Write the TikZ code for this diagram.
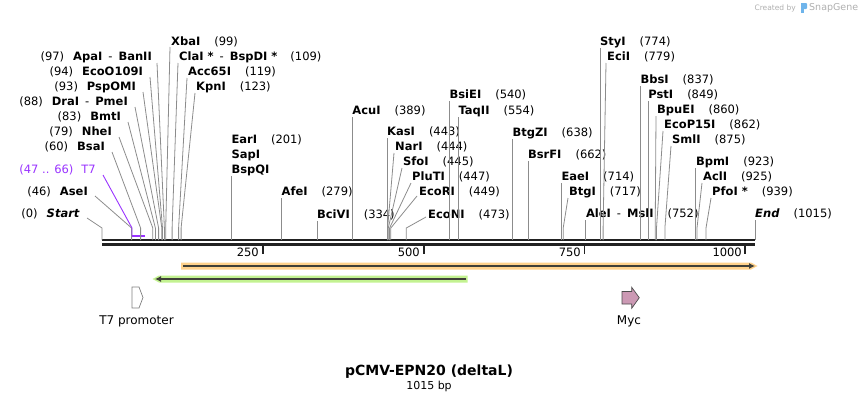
\documentclass[tikz,border=0pt]{standalone}
\usepackage{fontspec}
\setmainfont{DejaVu Sans}
\usepackage{xcolor}
\usetikzlibrary{arrows.meta}
\definecolor{cutgray}{RGB}{140,140,140}
\definecolor{seqdark}{RGB}{34,34,34}
\definecolor{t7purple}{RGB}{153,51,255}
\definecolor{cdsorange}{RGB}{255,210,140}
\definecolor{cdsgreen}{RGB}{195,242,145}
\definecolor{bardark}{RGB}{64,64,56}
\definecolor{mycpink}{RGB}{204,153,180}
\definecolor{markgray}{RGB}{175,175,175}
\definecolor{logoblue}{RGB}{110,180,235}

\begin{document}
\begin{tikzpicture}[x=1pt,y=-1pt,
    enz/.style={font=\fontsize{11.5}{13}\selectfont,inner sep=0pt},
    cut/.style={cutgray,line width=0.8pt},
    featlabel/.style={font=\fontsize{12}{14}\selectfont,inner sep=0pt}]
    \useasboundingbox (0,0) rectangle (858,402);

    % Watermark
    \node[font=\fontsize{7.5}{9}\selectfont,markgray,anchor=east,inner sep=0pt] (made) at (796,8) {Created by};
    \fill[logoblue] (801,3) rectangle (804,13);
    \fill[logoblue,rounded corners=1pt] (801,3) rectangle (807,9);
    \node[font=\fontsize{9.5}{11}\selectfont,markgray,anchor=west,inner sep=0pt] (snap) at (809,8) {SnapGene};

    % Sequence
    \coordinate (seqstart) at (102,240);
    \coordinate (seqend) at (755,240);
    \coordinate (seqtop) at (102,240);
    \draw[seqdark,line width=2.5pt] (seqstart) -- (seqend);
    \draw[seqdark,line width=2.5pt] ([yshift=-4.7pt]seqstart) -- ([yshift=-4.7pt]seqend);

    % Ticks
    \draw[seqdark,line width=1.8pt] (262.8,246) -- (262.8,254);
    \node[enz,anchor=east] (t250) at (259,252) {250};
    \draw[seqdark,line width=1.8pt] (423.7,246) -- (423.7,254);
    \node[enz,anchor=east] (t500) at (420,252) {500};
    \draw[seqdark,line width=1.8pt] (584.5,246) -- (584.5,254);
    \node[enz,anchor=east] (t750) at (581,252) {750};
    \draw[seqdark,line width=1.8pt] (745.3,246) -- (745.3,254);
    \node[enz,anchor=east] (t1000) at (742,252) {1000};

    % Sites, left side
    \node[enz,anchor=east] (start) at (80,214) {(0)\hspace{9pt}\textbf{\textit{Start}}};
    \coordinate (s-start) at (102,228);
    \draw[cut] ([shift={(7pt,-4pt)}]start.east) -- (s-start) -- (s-start |- seqtop);
    \node[enz,anchor=east] (asei) at (88,192) {(46)\hspace{9pt}\textbf{AseI}};
    \coordinate (s-asei) at (131.6,228);
    \draw[cut] ([shift={(7pt,-4pt)}]asei.east) -- (s-asei) -- (s-asei |- seqtop);
    \node[enz,anchor=east,t7purple] (t7) at (96,170) {(47 .. 66)\hspace{8pt}T7};
    \coordinate (s-t7) at (132,228);
    \draw[t7purple,line width=0.9pt] ([shift={(7pt,-5pt)}]t7.east) -- (s-t7) -- (132,235.5);
    \draw[t7purple,line width=2.5pt] (131.6,236) -- (144.5,236);
    \node[enz,anchor=east] (bsai) at (105,147) {(60)\hspace{9pt}\textbf{BsaI}};
    \coordinate (s-bsai) at (140.6,228);
    \draw[cut] ([shift={(7pt,-5pt)}]bsai.east) -- (s-bsai) -- (s-bsai |- seqtop);
    \node[enz,anchor=east] (nhei) at (112,132) {(79)\hspace{9pt}\textbf{NheI}};
    \coordinate (s-nhei) at (152.8,228);
    \draw[cut] ([shift={(7pt,-5pt)}]nhei.east) -- (s-nhei) -- (s-nhei |- seqtop);
    \node[enz,anchor=east] (bmti) at (121,117) {(83)\hspace{9pt}\textbf{BmtI}};
    \coordinate (s-bmti) at (155.4,228);
    \draw[cut] ([shift={(7pt,-5pt)}]bmti.east) -- (s-bmti) -- (s-bmti |- seqtop);
    \node[enz,anchor=east] (drai) at (128,102) {(88)\hspace{9pt}\textbf{DraI}\hspace{6pt}-\hspace{6pt}\textbf{PmeI}};
    \coordinate (s-drai) at (158.6,228);
    \draw[cut] ([shift={(7pt,-5pt)}]drai.east) -- (s-drai) -- (s-drai |- seqtop);
    \node[enz,anchor=east] (pspomi) at (136,87) {(93)\hspace{9pt}\textbf{PspOMI}};
    \coordinate (s-pspomi) at (161.8,228);
    \draw[cut] ([shift={(7pt,-5pt)}]pspomi.east) -- (s-pspomi) -- (s-pspomi |- seqtop);
    \node[enz,anchor=east] (ecoo) at (143,72) {(94)\hspace{9pt}\textbf{EcoO109I}};
    \coordinate (s-ecoo) at (162.5,228);
    \draw[cut] ([shift={(7pt,-5pt)}]ecoo.east) -- (s-ecoo) -- (s-ecoo |- seqtop);
    \node[enz,anchor=east] (apai) at (152,57) {(97)\hspace{9pt}\textbf{ApaI}\hspace{6pt}-\hspace{6pt}\textbf{BanII}};
    \coordinate (s-apai) at (164.4,228);
    \draw[cut] ([shift={(5pt,-6pt)}]apai.east) -- (s-apai) -- (s-apai |- seqtop);

    % Sites, right side
    \node[enz,anchor=west] (xbai) at (171,42) {\textbf{XbaI}\hspace{14pt}(99)};
    \coordinate (s-xbai) at (165.7,228);
    \draw[cut] ([shift={(-1pt,-5pt)}]xbai.west) -- (s-xbai) -- (s-xbai |- seqtop);
    \node[enz,anchor=west] (clai) at (179,57) {\textbf{ClaI *}\hspace{6pt}-\hspace{6pt}\textbf{BspDI *}\hspace{13pt}(109)};
    \coordinate (s-clai) at (172.1,228);
    \draw[cut] ([shift={(-1pt,-6pt)}]clai.west) -- (s-clai) -- (s-clai |- seqtop);
    \node[enz,anchor=west] (acc) at (188,72) {\textbf{Acc65I}\hspace{14pt}(119)};
    \coordinate (s-acc) at (178.6,228);
    \draw[cut] ([shift={(-1pt,-6pt)}]acc.west) -- (s-acc) -- (s-acc |- seqtop);
    \node[enz,anchor=west] (kpni) at (196,87) {\textbf{KpnI}\hspace{14pt}(123)};
    \coordinate (s-kpni) at (181.1,228);
    \draw[cut] ([shift={(-1pt,-6pt)}]kpni.west) -- (s-kpni) -- (s-kpni |- seqtop);

    \node[enz,anchor=west] (eari) at (231.3,140) {\textbf{EarI}\hspace{14pt}(201)};
    \node[enz,anchor=west] (sapi) at (231.3,155) {\textbf{SapI}};
    \node[enz,anchor=west] (bspqi) at (231.3,170) {\textbf{BspQI}};
    \draw[cut] ([yshift=-6pt]bspqi.west) -- (bspqi.west |- seqtop);
    \node[enz,anchor=west] (afei) at (281.5,192) {\textbf{AfeI}\hspace{14pt}(279)};
    \draw[cut] ([yshift=-6pt]afei.west) -- (afei.west |- seqtop);
    \node[enz,anchor=west] (bcivi) at (316.9,215) {\textbf{BciVI}\hspace{14pt}(334)};
    \draw[cut] ([yshift=-6pt]bcivi.west) -- (bcivi.west |- seqtop);
    \node[enz,anchor=west] (acui) at (352.2,111) {\textbf{AcuI}\hspace{14pt}(389)};
    \draw[cut] ([yshift=-6pt]acui.west) -- (acui.west |- seqtop);

    % KasI group
    \node[enz,anchor=west] (kasi) at (387,132) {\textbf{KasI}\hspace{14pt}(443)};
    \draw[cut] ([yshift=-6pt]kasi.west) -- (kasi.west |- seqtop);
    \node[enz,anchor=west] (nari) at (395,147) {\textbf{NarI}\hspace{14pt}(444)};
    \coordinate (s-nari) at (387.6,228);
    \draw[cut] ([shift={(-1pt,-6pt)}]nari.west) -- (s-nari) -- (s-nari |- seqtop);
    \node[enz,anchor=west] (sfoi) at (403,162) {\textbf{SfoI}\hspace{14pt}(445)};
    \coordinate (s-sfoi) at (388.3,228);
    \draw[cut] ([shift={(-1pt,-6pt)}]sfoi.west) -- (s-sfoi) -- (s-sfoi |- seqtop);
    \node[enz,anchor=west] (pluti) at (412,177) {\textbf{PluTI}\hspace{14pt}(447)};
    \coordinate (s-pluti) at (389.6,228);
    \draw[cut] ([shift={(-1pt,-6pt)}]pluti.west) -- (s-pluti) -- (s-pluti |- seqtop);
    \node[enz,anchor=west] (ecori) at (419,192) {\textbf{EcoRI}\hspace{14pt}(449)};
    \coordinate (s-ecori) at (390.8,228);
    \draw[cut] ([shift={(-2pt,-4pt)}]ecori.west) -- (s-ecori) -- (s-ecori |- seqtop);
    \node[enz,anchor=west] (econi) at (428,215) {\textbf{EcoNI}\hspace{14pt}(473)};
    \coordinate (s-econi) at (406.3,228);
    \draw[cut] ([shift={(-2pt,-2pt)}]econi.west) -- (s-econi) -- (s-econi |- seqtop);

    \node[enz,anchor=west] (bsiei) at (449.4,95) {\textbf{BsiEI}\hspace{14pt}(540)};
    \draw[cut] ([yshift=-6pt]bsiei.west) -- (bsiei.west |- seqtop);
    \node[enz,anchor=west] (taqii) at (458.4,111) {\textbf{TaqII}\hspace{14pt}(554)};
    \draw[cut] ([yshift=-6pt]taqii.west) -- (taqii.west |- seqtop);
    \node[enz,anchor=west] (btgzi) at (512.4,133) {\textbf{BtgZI}\hspace{14pt}(638)};
    \draw[cut] ([yshift=-6pt]btgzi.west) -- (btgzi.west |- seqtop);
    \node[enz,anchor=west] (bsrfi) at (527.9,155) {\textbf{BsrFI}\hspace{14pt}(662)};
    \draw[cut] ([yshift=-6pt]bsrfi.west) -- (bsrfi.west |- seqtop);
    \node[enz,anchor=west] (eaei) at (561.3,177) {\textbf{EaeI}\hspace{14pt}(714)};
    \draw[cut] ([yshift=-6pt]eaei.west) -- (eaei.west |- seqtop);
    \node[enz,anchor=west] (btgi) at (569,192) {\textbf{BtgI}\hspace{14pt}(717)};
    \coordinate (s-btgi) at (563.2,228);
    \draw[cut] ([shift={(-1pt,-6pt)}]btgi.west) -- (s-btgi) -- (s-btgi |- seqtop);
    \node[enz,anchor=west] (alei) at (585.8,214) {\textbf{AleI}\hspace{6pt}-\hspace{6pt}\textbf{MslI}\hspace{14pt}(752)};
    \draw[cut] ([yshift=-6pt]alei.west) -- (alei.west |- seqtop);
    \node[enz,anchor=west] (styi) at (599.9,42) {\textbf{StyI}\hspace{14pt}(774)};
    \draw[cut] ([yshift=-6pt]styi.west) -- (styi.west |- seqtop);
    \node[enz,anchor=west] (ecii) at (607,57) {\textbf{EciI}\hspace{14pt}(779)};
    \coordinate (s-ecii) at (603.1,228);
    \draw[cut] ([shift={(-1pt,-6pt)}]ecii.west) -- (s-ecii) -- (s-ecii |- seqtop);
    \node[enz,anchor=west] (bbsi) at (640.4,80) {\textbf{BbsI}\hspace{14pt}(837)};
    \draw[cut] ([yshift=-6pt]bbsi.west) -- (bbsi.west |- seqtop);
    \node[enz,anchor=west] (psti) at (648.2,95) {\textbf{PstI}\hspace{14pt}(849)};
    \draw[cut] ([yshift=-6pt]psti.west) -- (psti.west |- seqtop);
    \node[enz,anchor=west] (bpuei) at (657,110) {\textbf{BpuEI}\hspace{14pt}(860)};
    \coordinate (s-bpuei) at (655.2,228);
    \draw[cut] ([shift={(-1pt,-6pt)}]bpuei.west) -- (s-bpuei) -- (s-bpuei |- seqtop);
    \node[enz,anchor=west] (ecop) at (664,125) {\textbf{EcoP15I}\hspace{14pt}(862)};
    \coordinate (s-ecop) at (656.5,228);
    \draw[cut] ([shift={(-1pt,-6pt)}]ecop.west) -- (s-ecop) -- (s-ecop |- seqtop);
    \node[enz,anchor=west] (smli) at (672,140) {\textbf{SmlI}\hspace{14pt}(875)};
    \coordinate (s-smli) at (664.9,228);
    \draw[cut] ([shift={(-1pt,-6pt)}]smli.west) -- (s-smli) -- (s-smli |- seqtop);
    \node[enz,anchor=west] (bpmi) at (695.8,162) {\textbf{BpmI}\hspace{14pt}(923)};
    \draw[cut] ([yshift=-6pt]bpmi.west) -- (bpmi.west |- seqtop);
    \node[enz,anchor=west] (acli) at (703,177) {\textbf{AclI}\hspace{14pt}(925)};
    \coordinate (s-acli) at (697,228);
    \draw[cut] ([shift={(-1pt,-6pt)}]acli.west) -- (s-acli) -- (s-acli |- seqtop);
    \node[enz,anchor=west] (pfoi) at (712,192) {\textbf{PfoI *}\hspace{14pt}(939)};
    \coordinate (s-pfoi) at (706,228);
    \draw[cut] ([shift={(-1pt,-6pt)}]pfoi.west) -- (s-pfoi) -- (s-pfoi |- seqtop);
    \node[enz,anchor=west] (endsite) at (755,214) {\textbf{\textit{End}}\hspace{14pt}(1015)};
    \draw[cut] ([yshift=-6pt]endsite.west) -- (endsite.west |- seqtop);

    % Features
    \fill[cdsorange] (181,262.5) -- (751,262.5) -- (757.5,266) -- (751,269.5) -- (181,269.5) -- cycle;
    \draw[bardark,line width=2pt,-{Latex[length=6pt,width=6pt]}] (183,266) -- (755,266);
    \fill[cdsgreen] (467.5,275.5) -- (159,275.5) -- (152.5,279) -- (159,282.5) -- (467.5,282.5) -- cycle;
    \draw[bardark,line width=2pt,-{Latex[length=6pt,width=6pt]}] (466,279) -- (155,279);

    \draw[gray,fill=white,line width=0.7pt] (132,287) -- (139,287) -- (143,297.5) -- (139,308) -- (132,308) -- cycle;
    \node[featlabel] (t7prom) at (136.5,321) {T7 promoter};
    \draw[black!70,fill=mycpink,line width=0.7pt] (622,291.5) -- (631.7,291.5) -- (631.7,287.3) -- (639.3,297.7) -- (631.7,308.3) -- (631.7,304) -- (622,304) -- cycle;
    \node[featlabel] (myc) at (629,321) {Myc};

    % Title
    \node[font=\fontsize{14}{16}\selectfont\bfseries,inner sep=0pt] (title) at (429,372) {pCMV-EPN20 (deltaL)};
    \node[font=\fontsize{11}{13}\selectfont,inner sep=0pt] (size) at (429,386) {1015 bp};
\end{tikzpicture}
\end{document}
